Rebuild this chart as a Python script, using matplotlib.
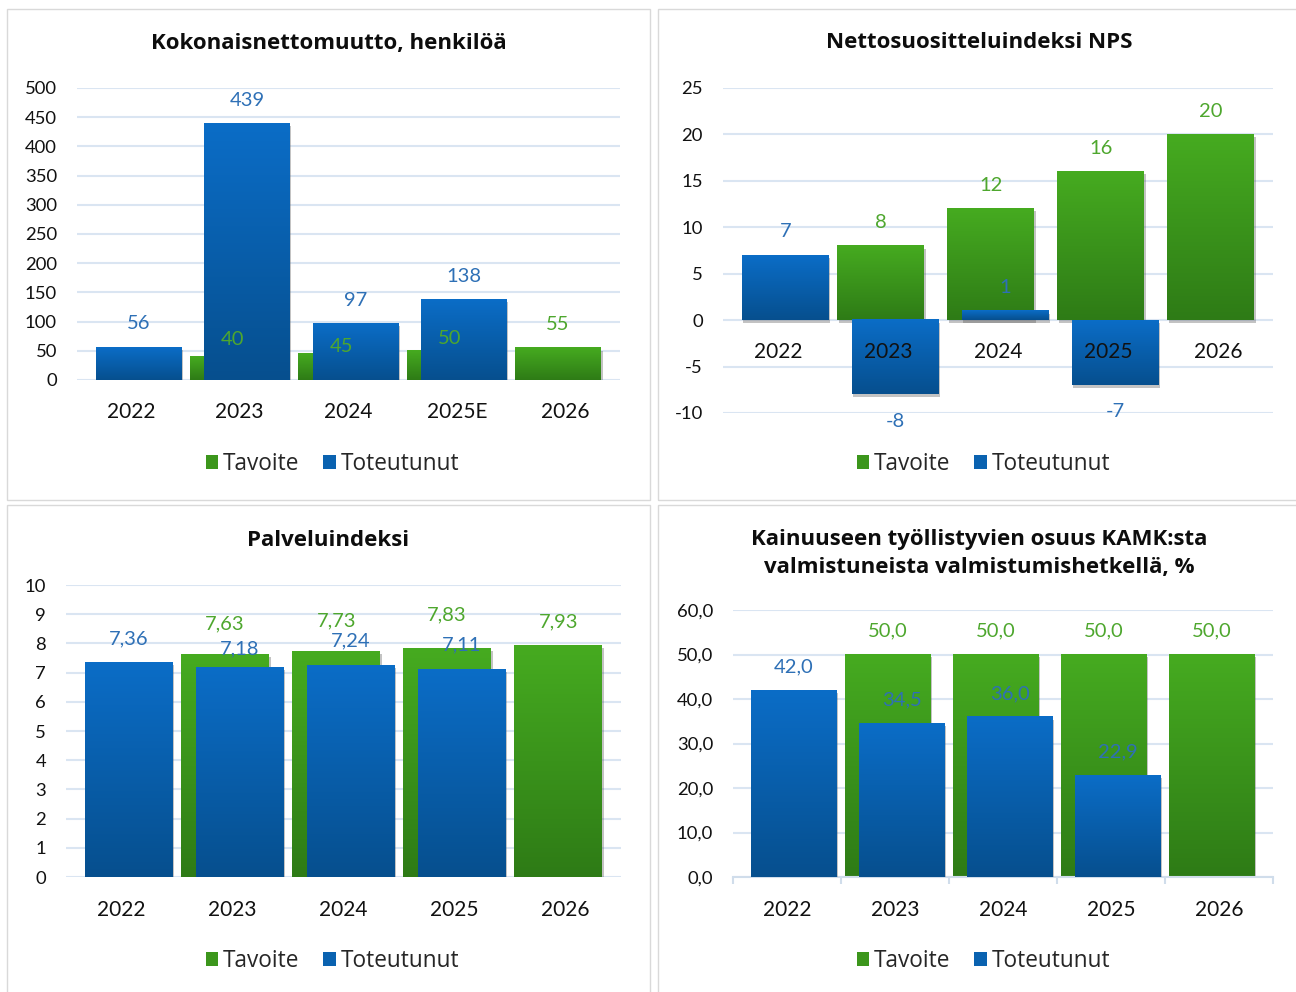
import matplotlib
matplotlib.use("Agg")
import matplotlib.pyplot as plt
import numpy as np
import matplotlib.patheffects as pe
import matplotlib.transforms as mtransforms
from matplotlib.patches import Rectangle, Patch
from matplotlib.colors import LinearSegmentedColormap

plt.rcParams['font.family'] = ['Lato', 'DejaVu Sans']

# ---------------- data ----------------
series_names = ["Tavoite", "Toteutunut"]

p1_title = "Kokonaisnettomuutto, henkilöä"
p1_cats = ["2022", "2023", "2024", "2025E", "2026"]
p1_tavoite = [None, 40, 45, 50, 55]
p1_toteutunut = [56, 439, 97, 138, None]
p1_yticks = [0, 50, 100, 150, 200, 250, 300, 350, 400, 450, 500]

p2_title = "Nettosuositteluindeksi NPS"
p2_cats = ["2022", "2023", "2024", "2025", "2026"]
p2_tavoite = [None, 8, 12, 16, 20]
p2_toteutunut = [7, -8, 1, -7, None]
p2_yticks = [-10, -5, 0, 5, 10, 15, 20, 25]

p3_title = "Palveluindeksi"
p3_cats = ["2022", "2023", "2024", "2025", "2026"]
p3_tavoite = [None, 7.63, 7.73, 7.83, 7.93]
p3_toteutunut = [7.36, 7.18, 7.24, 7.11, None]
p3_yticks = [0, 1, 2, 3, 4, 5, 6, 7, 8, 9, 10]

p4_title = ["Kainuuseen työllistyvien osuus KAMK:sta",
            "valmistuneista valmistumishetkellä, %"]
p4_cats = ["2022", "2023", "2024", "2025", "2026"]
p4_tavoite = [None, 50.0, 50.0, 50.0, 50.0]
p4_toteutunut = [42.0, 34.5, 36.0, 22.9, None]
p4_yticks = [0, 10, 20, 30, 40, 50, 60]

# ---------------- style ----------------
W, H = 1296, 992
BLUE_TOP, BLUE_BOT, BLUE_MID = "#0B6DC7", "#064F8E", "#0A62B0"
GREEN_TOP, GREEN_BOT, GREEN_MID = "#46AB20", "#2E7B16", "#3C961C"
BLUE_LBL, GREEN_LBL = "#2E70B6", "#4EA72E"
GRID = "#DAE5F2"
BORDER = "#D9D9D9"
BAR_W = 0.79
OFF = 0.066

fig = plt.figure(figsize=(W / 100, H / 100), dpi=100)


def px_off(dx, dy):
    return mtransforms.ScaledTranslation(dx / 100, dy / 100, fig.dpi_scale_trans)


def add_axes_px(x0, y0, x1, y1):
    return fig.add_axes([x0 / W, 1 - y1 / H, (x1 - x0) / W, (y1 - y0) / H])


def border(x0, y0, x1, y1):
    fig.add_artist(Rectangle((x0 / W, 1 - y1 / H), (x1 - x0) / W, (y1 - y0) / H,
                             transform=fig.transFigure, fill=False,
                             edgecolor=BORDER, linewidth=1.0))


def gradient_bars(ax, xs, vals, c_top, c_bot, z):
    pts = [(x, v) for x, v in zip(xs, vals) if v is not None]
    cmap = LinearSegmentedColormap.from_list("g", [c_bot, c_top])
    grad = np.linspace(0, 1, 256).reshape(-1, 1)
    bars = ax.bar([p[0] for p in pts], [p[1] for p in pts], width=BAR_W,
                  color=c_top, linewidth=0, zorder=z)
    for b in bars:
        b.set_path_effects([pe.SimplePatchShadow(offset=(1.2, -2.0),
                                                 shadow_rgbFace="#555555", alpha=0.35),
                            pe.Normal()])
        x0, w = b.get_x(), b.get_width()
        y0, h = b.get_y(), b.get_height()
        ya, yb = min(y0, y0 + h), max(y0, y0 + h)
        ax.imshow(grad, extent=(x0, x0 + w, ya, yb), origin="lower", cmap=cmap,
                  aspect="auto", zorder=z + 0.1, interpolation="bilinear")
    return bars


def value_labels(ax, xs, vals, fmt, color, nudges=None):
    for i, (x, v) in enumerate(zip(xs, vals)):
        if v is None:
            continue
        n = nudges[i] if nudges else 0
        s = fmt(v)
        if v >= 0:
            dy = 25 - 7.2 + n
        else:
            dy = -(25 + 7.2)
        ax.text(x, v, s, transform=ax.transData + px_off(0, dy), ha="center",
                va="baseline", fontsize=14.5, color=color, zorder=20, clip_on=False)


def panel(axbox, cats, tav, tot, yticks, ylabels, fmt, cat_y, cat_dy,
          tav_nudge=None, tot_nudge=None, bottom_axis=False):
    ax = add_axes_px(*axbox)
    n = len(cats)
    xs = np.arange(n)
    gradient_bars(ax, xs - OFF, tav, GREEN_TOP, GREEN_BOT, 2)
    gradient_bars(ax, xs + OFF, tot, BLUE_TOP, BLUE_BOT, 3)
    value_labels(ax, xs - OFF, tav, fmt, GREEN_LBL, tav_nudge)
    value_labels(ax, xs + OFF, tot, fmt, BLUE_LBL, tot_nudge)
    ax.set_xlim(-0.5, n - 0.5)
    ax.set_ylim(yticks[0], yticks[-1])
    ax.set_yticks(yticks)
    ax.set_yticklabels(ylabels)
    ax.tick_params(axis="y", length=0, pad=14.4, labelsize=13.3, labelcolor="#111111")
    ax.set_xticks(xs)
    ax.set_xticklabels([])
    ax.tick_params(axis="x", length=0)
    for c, x in zip(cats, xs):
        ax.text(x, cat_y, c, transform=ax.transData + px_off(0, cat_dy), ha="center",
                va="baseline", fontsize=15, color="#111111", zorder=25, clip_on=False)
    ax.grid(axis="y", color=GRID, linewidth=1.5)
    ax.set_axisbelow(True)
    for s in ax.spines.values():
        s.set_visible(False)
    if bottom_axis:
        ax.spines["bottom"].set_visible(True)
        ax.spines["bottom"].set_color("#D0DDEB")
        ax.spines["bottom"].set_linewidth(1.5)
        ax.set_xticks(np.arange(-0.5, n, 1.0), minor=True)
        ax.tick_params(axis="x", which="minor", length=5, width=1.5,
                       color="#D0DDEB", direction="out")
    ax.patch.set_alpha(0)
    return ax


def legend_at(cx, cy):
    handles = [Patch(facecolor=GREEN_MID, edgecolor="none"),
               Patch(facecolor=BLUE_MID, edgecolor="none")]
    leg = fig.legend(handles, series_names, loc="center",
                     bbox_to_anchor=(cx / W, 1 - cy / H), ncol=2, frameon=False,
                     prop=dict(family=["Open Sans", "DejaVu Sans"], size=16.3),
                     handlelength=0.55, handleheight=0.55, handletextpad=0.22,
                     columnspacing=1.05, borderpad=0, borderaxespad=0)
    for t in leg.get_texts():
        t.set_color("#262626")


def title_at(cx, cy, s):
    fig.text(cx / W, 1 - cy / H, s, ha="center", va="center", fontsize=16,
             fontweight="bold", color="#0D0D0D", family=["Open Sans", "DejaVu Sans"])


int_fmt = lambda v: f"{v:d}"
two_fmt = lambda v: f"{v:.2f}".replace(".", ",")
one_fmt = lambda v: f"{v:.1f}".replace(".", ",")

# borders
border(7, 9, 650, 500)
border(658, 9, 1300, 500)
border(7, 505, 650, 996)
border(658, 505, 1300, 996)

# panel 1
panel((77, 88, 619.5, 380), p1_cats, p1_tavoite, p1_toteutunut, p1_yticks,
      [str(v) for v in p1_yticks], int_fmt, 0, -38.5,
      tav_nudge=[0, -6, -16, -11, 0])
title_at(328.5, 43, p1_title)
legend_at(332.5, 464)

# panel 2
panel((723, 88, 1273, 413), p2_cats, p2_tavoite, p2_toteutunut, p2_yticks,
      [str(v) for v in p2_yticks], int_fmt, 0, -37.5)
title_at(979.5, 43, p2_title)
legend_at(983.5, 464)

# panel 3
panel((66, 585, 621, 877), p3_cats, p3_tavoite, p3_toteutunut, p3_yticks,
      [str(v) for v in p3_yticks], two_fmt, 0, -38.5,
      tav_nudge=[0, 7, 7, 10, 0], tot_nudge=[0, -5, 1, 1, 0])
title_at(328.5, 540, p3_title)
legend_at(332.5, 961)

# panel 4
panel((733, 610, 1273, 877), p4_cats, p4_tavoite, p4_toteutunut, p4_yticks,
      [f"{v:.1f}".replace(".", ",") for v in p4_yticks], one_fmt, 0, -38.5,
      bottom_axis=True)
title_at(979.5, 540, p4_title[0])
title_at(979.5, 567, p4_title[1])
legend_at(983.5, 961)

fig.savefig("out.png", dpi=100, facecolor="white")
